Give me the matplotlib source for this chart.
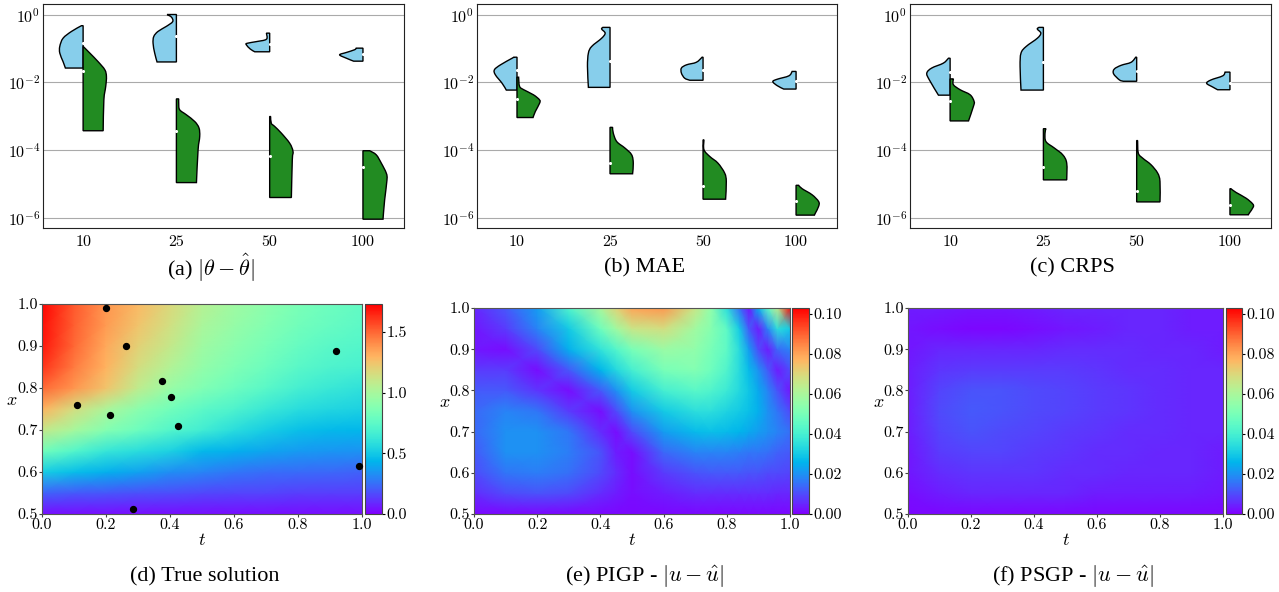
import numpy as np
import matplotlib
matplotlib.use("Agg")
import matplotlib.pyplot as plt
from matplotlib.path import Path
from matplotlib.patches import PathPatch

plt.rcParams['font.family'] = 'serif'
plt.rcParams['font.serif'] = ['cmr10']
plt.rcParams['mathtext.fontset'] = 'cm'
plt.rcParams['axes.formatter.use_mathtext'] = True
plt.rcParams['axes.unicode_minus'] = False

# training sizes on the x axis of the violin panels
sizes = ["10", "25", "50", "100"]

# violin outlines: log10 of the error (bottom -> top) and relative half width
# blue = PIGP, green = PSGP
theta_pigp_logy = [[-1.58, -1.39, -1.14, -0.94, -0.70, -0.50, -0.33],
                   [-1.40, -1.14, -0.85, -0.65, -0.50, -0.35, -0.21, -0.08, 0.0],
                   [-1.10, -1.02, -0.895, -0.85, -0.80, -0.73, -0.55],
                   [-1.377, -1.29, -1.19, -1.12, -1.04, -0.993]]
theta_pigp_w = [[0.76, 0.86, 1.0, 1.0, 0.86, 0.5, 0.07],
                [0.83, 0.93, 1.0, 0.97, 0.79, 0.43, 0.16, 0.21, 0.40],
                [0.64, 0.83, 1.0, 0.97, 0.57, 0.14, 0.14],
                [0.40, 0.71, 1.0, 0.71, 0.36, 0.29]]
theta_pigp_med = [-0.85, -0.63, -0.865, -1.16]
theta_psgp_logy = [[-3.43, -2.52, -2.12, -1.83, -1.63, -1.39, -1.14, -0.94],
                   [-4.96, -3.99, -3.60, -3.35, -3.16, -2.96, -2.81, -2.62, -2.49],
                   [-5.40, -4.29, -4.04, -3.80, -3.50, -3.30, -3.21, -3.01],
                   [-6.04, -5.47, -4.88, -4.68, -4.39, -4.14, -4.02]]
theta_psgp_w = [[0.86, 0.89, 0.97, 1.0, 0.93, 0.64, 0.29, 0.0],
                [0.86, 0.93, 1.0, 0.97, 0.79, 0.43, 0.14, 0.1, 0.1],
                [0.93, 0.97, 1.0, 0.86, 0.5, 0.21, 0.07, 0.04],
                [0.86, 0.93, 1.03, 1.0, 0.79, 0.57, 0.29]]
theta_psgp_med = [-1.68, -3.43, -4.19, -4.51]

mae_pigp_logy = [[-2.23, -2.03, -1.78, -1.63, -1.485, -1.29, -1.26],
                 [-2.15, -1.53, -1.14, -0.944, -0.70, -0.55, -0.43, -0.38],
                 [-1.94, -1.88, -1.73, -1.58, -1.485, -1.41, -1.26],
                 [-2.20, -2.10, -1.98, -1.91, -1.81, -1.68]]
mae_pigp_w = [[0.46, 0.64, 0.93, 0.97, 0.71, 0.21, 0.14],
              [0.93, 0.97, 0.93, 0.79, 0.36, 0.21, 0.36, 0.31],
              [0.57, 0.79, 0.93, 0.93, 0.71, 0.29, 0.04],
              [0.53, 0.81, 1.0, 0.81, 0.31, 0.17]]
mae_pigp_med = [-1.64, -1.37, -1.65, -1.96]
mae_psgp_logy = [[-3.04, -2.86, -2.62, -2.52, -2.37, -2.22, -2.12, -1.85],
                 [-4.70, -4.39, -4.14, -3.94, -3.75, -3.50, -3.33],
                 [-5.45, -4.93, -4.68, -4.385, -4.19, -3.99, -3.70],
                 [-5.92, -5.86, -5.66, -5.52, -5.32, -5.14, -5.04]]
mae_psgp_w = [[0.69, 0.79, 0.97, 0.97, 0.71, 0.29, 0.11, 0.07],
              [0.97, 1.0, 0.93, 0.64, 0.29, 0.14, 0.11],
              [0.97, 1.0, 0.93, 0.64, 0.29, 0.04, 0.04],
              [0.79, 0.83, 0.97, 0.97, 0.69, 0.26, 0.11]]
mae_psgp_med = [-2.48, -4.385, -5.07, -5.51]

crps_pigp_logy = [[-2.38, -1.93, -1.73, -1.58, -1.435, -1.29],
                  [-2.23, -1.53, -1.14, -0.944, -0.70, -0.55, -0.43, -0.38],
                  [-1.97, -1.93, -1.75, -1.61, -1.50, -1.41, -1.26],
                  [-2.22, -2.14, -2.03, -1.93, -1.81, -1.70]]
crps_pigp_w = [[0.5, 0.89, 1.0, 0.79, 0.29, 0.07],
               [0.96, 1.0, 0.96, 0.74, 0.26, 0.11, 0.26, 0.19],
               [0.57, 0.74, 0.99, 0.96, 0.67, 0.24, 0.04],
               [0.53, 0.74, 1.0, 0.81, 0.31, 0.21]]
crps_pigp_med = [-1.71, -1.39, -1.68, -2.01]
crps_psgp_logy = [[-3.14, -2.71, -2.57, -2.37, -2.22, -2.07, -1.90],
                  [-4.88, -4.385, -4.14, -3.94, -3.75, -3.50, -3.37],
                  [-5.53, -4.93, -4.68, -4.43, -4.24, -4.09, -3.72],
                  [-5.91, -5.86, -5.68, -5.585, -5.42, -5.25, -5.14]]
crps_psgp_w = [[0.79, 1.0, 1.03, 0.86, 0.43, 0.14, 0.14],
               [1.0, 1.0, 0.83, 0.47, 0.11, 0.07, 0.11],
               [1.0, 1.0, 0.9, 0.61, 0.26, 0.07, 0.04],
               [0.79, 0.83, 1.0, 0.97, 0.69, 0.26, 0.04]]
crps_psgp_med = [-2.54, -4.50, -5.22, -5.63]

# grids of the solution / error fields (rows: x, columns: t)
x_grid = [0.5, 0.55, 0.6, 0.65, 0.7, 0.75, 0.8, 0.85, 0.9, 0.95, 1.0]
t_grid = [0.0, 0.1, 0.2, 0.3, 0.4, 0.5, 0.6, 0.7, 0.8, 0.9, 1.0]
u_true = [[0.03, 0.03, 0.03, 0.03, 0.03, 0.03, 0.03, 0.03, 0.03, 0.03, 0.03],
          [0.22, 0.20, 0.19, 0.18, 0.17, 0.16, 0.15, 0.15, 0.14, 0.14, 0.14],
          [0.52, 0.46, 0.42, 0.38, 0.33, 0.30, 0.27, 0.25, 0.24, 0.23, 0.22],
          [0.82, 0.72, 0.62, 0.58, 0.53, 0.45, 0.42, 0.39, 0.36, 0.35, 0.34],
          [1.10, 1.00, 0.88, 0.80, 0.72, 0.66, 0.58, 0.52, 0.47, 0.45, 0.44],
          [1.30, 1.15, 1.02, 0.90, 0.82, 0.75, 0.70, 0.63, 0.58, 0.55, 0.53],
          [1.50, 1.38, 1.25, 1.08, 0.95, 0.87, 0.80, 0.74, 0.67, 0.63, 0.60],
          [1.62, 1.45, 1.30, 1.15, 1.04, 0.93, 0.86, 0.80, 0.74, 0.70, 0.68],
          [1.68, 1.50, 1.33, 1.20, 1.10, 0.97, 0.90, 0.84, 0.78, 0.74, 0.72],
          [1.70, 1.52, 1.37, 1.25, 1.14, 1.01, 0.94, 0.88, 0.82, 0.78, 0.75],
          [1.72, 1.53, 1.38, 1.28, 1.17, 1.05, 0.97, 0.91, 0.85, 0.80, 0.77]]
obs_t = [0.201, 0.261, 0.920, 0.374, 0.404, 0.110, 0.2125, 0.425, 0.991, 0.283]
obs_x = [0.990, 0.900, 0.887, 0.817, 0.779, 0.760, 0.735, 0.710, 0.614, 0.513]

t_grid_e = [0.0, 0.1, 0.2, 0.3, 0.4, 0.45, 0.5, 0.6, 0.7, 0.75, 0.8, 0.84, 0.87, 0.9, 0.93, 0.96, 1.0]
err_pigp = [[0.001] * 17,
            [0.006, 0.010, 0.011, 0.010, 0.006, 0.004, 0.002, 0.004, 0.006, 0.006, 0.006, 0.006, 0.006, 0.006, 0.006, 0.005, 0.005],
            [0.010, 0.016, 0.017, 0.015, 0.010, 0.006, 0.002, 0.008, 0.011, 0.012, 0.012, 0.012, 0.011, 0.011, 0.010, 0.010, 0.009],
            [0.012, 0.020, 0.020, 0.017, 0.011, 0.004, 0.002, 0.014, 0.018, 0.018, 0.018, 0.017, 0.016, 0.016, 0.015, 0.013, 0.012],
            [0.014, 0.020, 0.020, 0.016, 0.006, 0.002, 0.010, 0.022, 0.027, 0.028, 0.027, 0.026, 0.024, 0.022, 0.020, 0.018, 0.015],
            [0.014, 0.018, 0.016, 0.008, 0.002, 0.010, 0.020, 0.030, 0.035, 0.035, 0.032, 0.030, 0.028, 0.025, 0.020, 0.016, 0.010],
            [0.012, 0.012, 0.007, 0.002, 0.012, 0.020, 0.030, 0.040, 0.044, 0.042, 0.038, 0.033, 0.029, 0.024, 0.018, 0.011, 0.003],
            [0.008, 0.008, 0.002, 0.012, 0.026, 0.033, 0.040, 0.050, 0.052, 0.048, 0.042, 0.034, 0.027, 0.020, 0.012, 0.004, 0.010],
            [0.003, 0.002, 0.010, 0.025, 0.036, 0.043, 0.050, 0.057, 0.055, 0.050, 0.045, 0.034, 0.022, 0.010, 0.004, 0.014, 0.018],
            [0.003, 0.008, 0.018, 0.030, 0.048, 0.058, 0.066, 0.068, 0.058, 0.053, 0.045, 0.030, 0.012, 0.004, 0.018, 0.035, 0.030],
            [0.005, 0.012, 0.022, 0.042, 0.060, 0.071, 0.080, 0.082, 0.066, 0.055, 0.035, 0.015, 0.003, 0.025, 0.045, 0.065, 0.102]]
err_psgp = [[0.001] * 11,
            [0.002, 0.004, 0.005, 0.005, 0.005, 0.005, 0.004, 0.004, 0.004, 0.004, 0.003],
            [0.003, 0.006, 0.007, 0.007, 0.007, 0.006, 0.006, 0.005, 0.005, 0.005, 0.004],
            [0.003, 0.008, 0.009, 0.009, 0.008, 0.007, 0.006, 0.006, 0.005, 0.005, 0.004],
            [0.004, 0.009, 0.011, 0.010, 0.009, 0.008, 0.007, 0.006, 0.006, 0.005, 0.005],
            [0.004, 0.010, 0.012, 0.011, 0.010, 0.009, 0.008, 0.007, 0.006, 0.005, 0.005],
            [0.004, 0.009, 0.011, 0.011, 0.010, 0.009, 0.008, 0.007, 0.006, 0.005, 0.005],
            [0.004, 0.007, 0.008, 0.008, 0.008, 0.008, 0.007, 0.006, 0.006, 0.005, 0.005],
            [0.003, 0.005, 0.005, 0.005, 0.005, 0.006, 0.006, 0.006, 0.005, 0.005, 0.004],
            [0.003, 0.002, 0.001, 0.001, 0.002, 0.003, 0.004, 0.005, 0.005, 0.004, 0.004],
            [0.004, 0.004, 0.003, 0.003, 0.004, 0.005, 0.005, 0.005, 0.005, 0.004, 0.004]]

W, H = 1279, 592
fig = plt.figure(figsize=(W / 100, H / 100), dpi=100)


def box(l, t, r, b):
    return [l / W, 1 - b / H, (r - l) / W, (b - t) / H]


def half_violin(ax, pos, logy, w, side, color):
    # smooth outline through the read-off knots (bezier segments in log space)
    ly = np.array(logy, dtype=float)
    pts = np.column_stack([pos + side * 0.25 * np.array(w), ly])
    ext = np.vstack([pts[0], pts, pts[-1]])
    verts = [(pos, ly[0]), tuple(pts[0])]
    codes = [Path.MOVETO, Path.LINETO]
    for i in range(len(pts) - 1):
        p0, p1, p2, p3 = ext[i], ext[i + 1], ext[i + 2], ext[i + 3]
        verts += [tuple(p1 + (p2 - p0) / 6), tuple(p2 - (p3 - p1) / 6), tuple(p2)]
        codes += [Path.CURVE4] * 3
    verts += [(pos, ly[-1]), (pos, ly[0])]
    codes += [Path.LINETO, Path.CLOSEPOLY]
    verts = np.array(verts)
    verts[:, 1] = 10.0 ** verts[:, 1]
    ax.add_patch(PathPatch(Path(verts, codes), facecolor=color,
                           edgecolor='black', lw=1.0, zorder=3))


def violin_panel(rect, blue_y, blue_w, blue_m, green_y, green_w, green_m):
    ax = fig.add_axes(box(*rect))
    for i in range(len(sizes)):
        half_violin(ax, i, blue_y[i], blue_w[i], -1, 'skyblue')
        half_violin(ax, i, green_y[i], green_w[i], 1, 'forestgreen')
        ax.scatter([i, i], [10.0 ** blue_m[i], 10.0 ** green_m[i]], s=5,
                   color='white', zorder=4, linewidths=0)
    ax.set_yscale('log')
    ax.set_ylim(10 ** -6.3, 10 ** 0.31)
    ax.set_xlim(-0.43, 3.44)
    ax.set_yticks([1e0, 1e-2, 1e-4, 1e-6])
    ax.yaxis.set_minor_locator(matplotlib.ticker.NullLocator())
    ax.set_xticks(range(len(sizes)))
    ax.set_xticklabels(sizes)
    ax.grid(axis='y', color='#aaaaaa', lw=0.8)
    ax.set_axisbelow(True)
    ax.tick_params(length=0, labelsize=11.5)
    ax.tick_params(axis='x', pad=5)
    ax.tick_params(axis='y', pad=2)
    for s in ax.spines.values():
        s.set_color('#222222')
    return ax


violin_panel((43, 4, 404, 228), theta_pigp_logy, theta_pigp_w, theta_pigp_med,
             theta_psgp_logy, theta_psgp_w, theta_psgp_med)
violin_panel((477, 4, 837, 228), mae_pigp_logy, mae_pigp_w, mae_pigp_med,
             mae_psgp_logy, mae_psgp_w, mae_psgp_med)
violin_panel((910, 4, 1271, 228), crps_pigp_logy, crps_pigp_w, crps_pigp_med,
             crps_psgp_logy, crps_psgp_w, crps_psgp_med)


def field_panel(rect, crect, t, Z, vmax, cticks, cfmt):
    ax = fig.add_axes(box(*rect))
    mesh = ax.pcolormesh(t, x_grid, np.array(Z), shading='gouraud',
                         cmap='rainbow', vmin=0, vmax=vmax)
    ax.set_xlim(0, 1)
    ax.set_ylim(0.5, 1.0)
    ax.set_xticks([0, 0.2, 0.4, 0.6, 0.8, 1.0])
    ax.set_yticks([0.5, 0.6, 0.7, 0.8, 0.9, 1.0])
    ax.xaxis.set_major_formatter(matplotlib.ticker.FormatStrFormatter('%.1f'))
    ax.yaxis.set_major_formatter(matplotlib.ticker.FormatStrFormatter('%.1f'))
    ax.tick_params(length=2, pad=1, labelsize=11.5, color='#444444')
    ax.set_xlabel('$t$', fontsize=13, labelpad=0)
    ax.set_ylabel('$x$', fontsize=13, rotation=0, va='center')
    ax.yaxis.set_label_coords(-0.093, 0.54)
    for s in ax.spines.values():
        s.set_color('#555555')
    cax = fig.add_axes(box(*crect))
    cb = fig.colorbar(mesh, cax=cax)
    cb.set_ticks(cticks)
    cb.ax.yaxis.set_major_formatter(matplotlib.ticker.FormatStrFormatter(cfmt))
    cb.ax.tick_params(length=2, pad=1, labelsize=11.5)
    cb.outline.set_edgecolor('#444444')
    return ax


axd = field_panel((42, 304, 362, 514), (365, 304, 382, 514), t_grid, u_true,
                  1.73, [0, 0.5, 1.0, 1.5], '%.1f')
axd.scatter(obs_t, obs_x, s=18, color='black', zorder=5, clip_on=False)
field_panel((474, 308, 790, 514), (792, 308, 809, 514), t_grid_e, err_pigp,
            0.103, [0, 0.02, 0.04, 0.06, 0.08, 0.10], '%.2f')
field_panel((908, 308, 1223, 514), (1226, 308, 1242, 514), t_grid, err_psgp,
            0.103, [0, 0.02, 0.04, 0.06, 0.08, 0.10], '%.2f')

captions = [(211, 268, r'(a) $|\theta - \hat{\theta}|$'),
            (645, 268, '(b) MAE'),
            (1072, 268, '(c) CRPS'),
            (205, 577, '(d) True solution'),
            (645, 577, r'(e) PIGP - $|u - \hat{u}|$'),
            (1073, 577, r'(f) PSGP - $|u - \hat{u}|$')]
for cx, cy, txt in captions:
    fig.text(cx / W, 1 - cy / H, txt, ha='center', va='center', fontsize=16,
             family='Liberation Serif')

fig.savefig('out.png', dpi=100)
